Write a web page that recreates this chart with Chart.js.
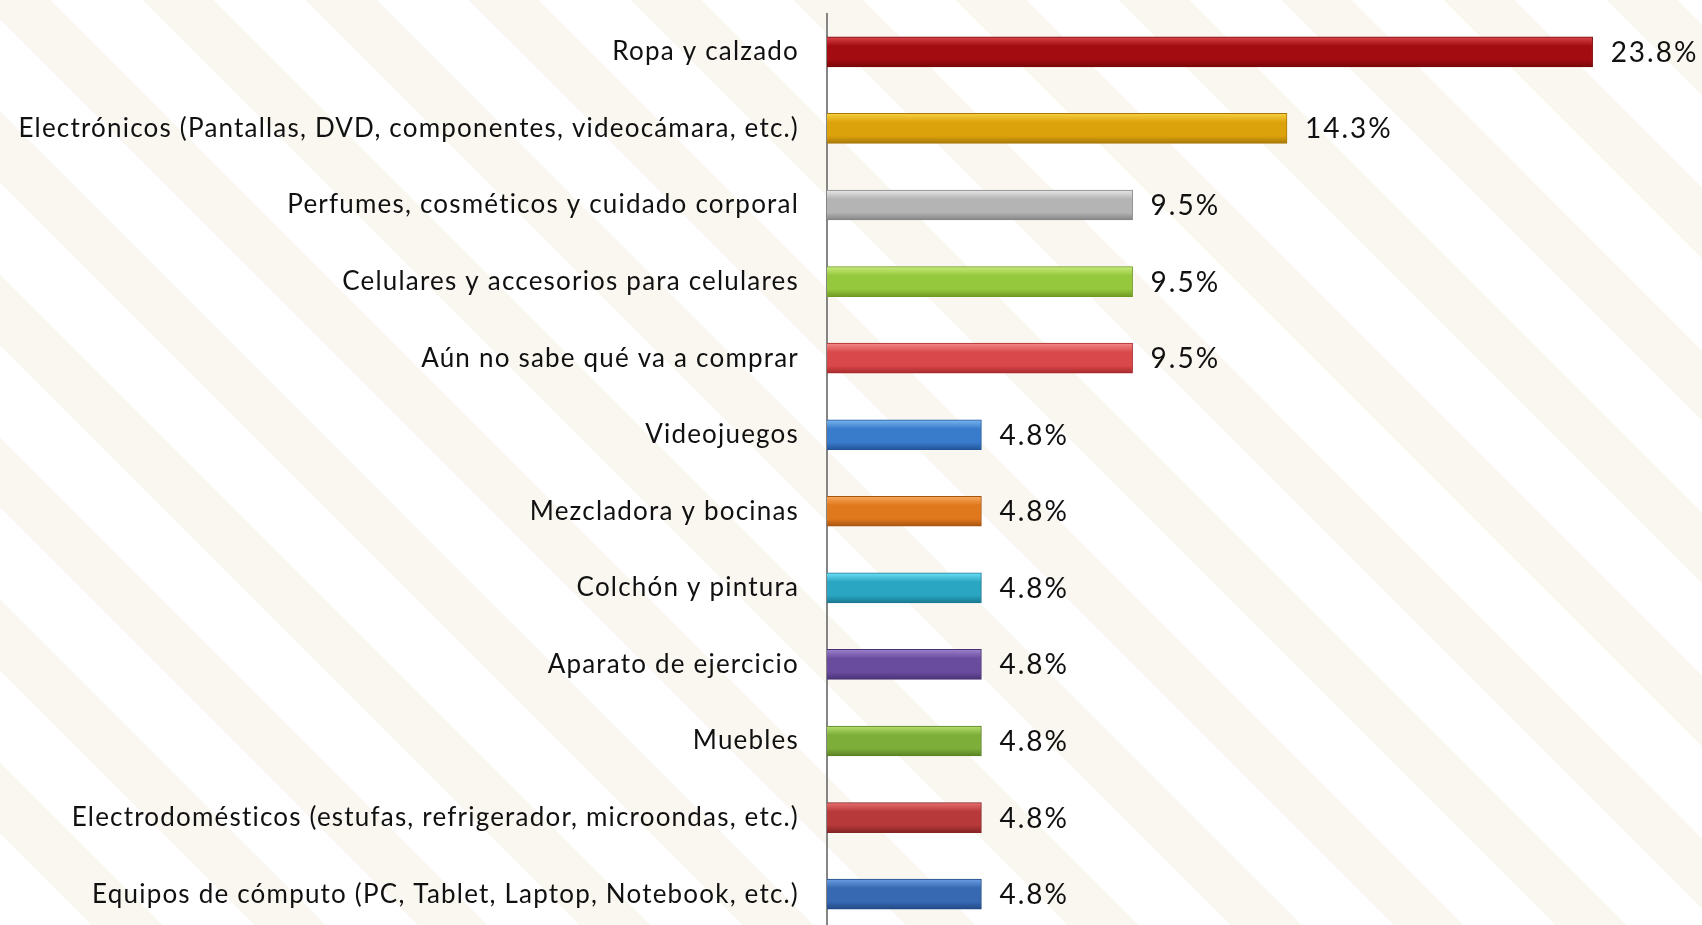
<!DOCTYPE html>
<html>
<head>
<meta charset="utf-8">
<script src="https://cdn.jsdelivr.net/npm/chart.js@4"></script>
<style>
  html, body { margin: 0; padding: 0; overflow: hidden; background: #fff; }
  body {
    width: 1702px; height: 925px;
    background:
      repeating-linear-gradient(45deg, rgba(255,255,255,0) 0px, rgba(255,255,255,0) 65px,
        rgba(240,232,214,0.35) 65px, rgba(240,232,214,0.35) 115px),
      #fff;
  }
  #wrap { position: absolute; left: 0; top: -30px; }
</style>
</head>
<body>
<div id="wrap"><canvas id="chart" width="1702" height="1006"></canvas></div>
<script>
const categories = [
    'Ropa y calzado',
    'Electrónicos (Pantallas, DVD, componentes, videocámara, etc.)',
    'Perfumes, cosméticos y cuidado corporal',
    'Celulares y accesorios para celulares',
    'Aún no sabe qué va a comprar',
    'Videojuegos',
    'Mezcladora y bocinas',
    'Colchón y pintura',
    'Aparato de ejercicio',
    'Muebles',
    'Electrodomésticos (estufas, refrigerador, microondas, etc.)',
    'Equipos de cómputo (PC, Tablet, Laptop, Notebook, etc.)'
];
const percentages = [23.8, 14.3, 9.5, 9.5, 9.5, 4.8, 4.8, 4.8, 4.8, 4.8, 4.8, 4.8];

// light, mid, dark for each bar
const barColors = [
    ['#d8454a', '#a30d12', '#7a0608'],
    ['#f7d040', '#dca20c', '#a87806'],
    ['#e8e8e8', '#b4b4b4', '#858585'],
    ['#c8ec7c', '#96c83e', '#6e9a22'],
    ['#f48a8a', '#d9484a', '#a82a2c'],
    ['#7ab8f0', '#3a7ccc', '#22559a'],
    ['#f8aa5c', '#e0781e', '#a85410'],
    ['#6ee0f8', '#2aa6c2', '#1a7890'],
    ['#9c82cc', '#6a4c9e', '#4a3276'],
    ['#b6e070', '#7eae3a', '#5a8224'],
    ['#e87070', '#b8393a', '#862424'],
    ['#6aa0e4', '#3768b2', '#234a86']
];

const BAR_H = 30;

function barFill(ctx) {
    const c = barColors[ctx.dataIndex];
    const yScale = ctx.chart.scales.y;
    if (!yScale || !ctx.chart.chartArea) return c[1];
    const y = yScale.getPixelForValue(ctx.dataIndex);
    const g = ctx.chart.ctx.createLinearGradient(0, y - BAR_H / 2, 0, y + BAR_H / 2);
    g.addColorStop(0, c[0]);
    g.addColorStop(0.3, c[1]);
    g.addColorStop(0.75, c[1]);
    g.addColorStop(1, c[2]);
    return g;
}

// the original text is a bit spaced out
const spacing = {
    id: 'spacing',
    beforeDraw(chart) { chart.ctx.letterSpacing = '1.2px'; }
};

const valueLabels = {
    id: 'valueLabels',
    afterDatasetsDraw(chart) {
        const ctx = chart.ctx;
        const meta = chart.getDatasetMeta(0);
        ctx.save();
        ctx.letterSpacing = '2px';
        ctx.font = '28px Lato, "Open Sans", sans-serif';
        ctx.fillStyle = '#111';
        ctx.textAlign = 'left';
        ctx.textBaseline = 'middle';
        meta.data.forEach((bar, i) => {
            ctx.fillText(percentages[i].toFixed(1) + '%', bar.x + 18, bar.y + 1);
        });
        ctx.restore();
    }
};

new Chart(document.getElementById('chart'), {
    type: 'bar',
    data: {
        labels: categories,
        datasets: [{
            data: percentages,
            backgroundColor: barFill,
            borderColor: (ctx) => barColors[ctx.dataIndex][2],
            borderWidth: 1,
            barThickness: BAR_H
        }]
    },
    options: {
        indexAxis: 'y',
        responsive: false,
        animation: false,
        layout: { padding: { top: 13, right: 0, bottom: 0, left: 0 } },
        plugins: { legend: { display: false }, tooltip: { enabled: false } },
        scales: {
            x: { display: false, min: 0, max: 27.2 },
            y: {
                afterFit(scale) { scale.width = 827; },
                grid: { display: false, drawTicks: false },
                border: { display: true, color: '#858585', width: 2 },
                ticks: {
                    padding: 28,
                    color: '#111',
                    font: { family: 'Lato, "Open Sans", sans-serif', size: 26 }
                }
            }
        }
    },
    plugins: [spacing, valueLabels]
});
</script>
</body>
</html>
